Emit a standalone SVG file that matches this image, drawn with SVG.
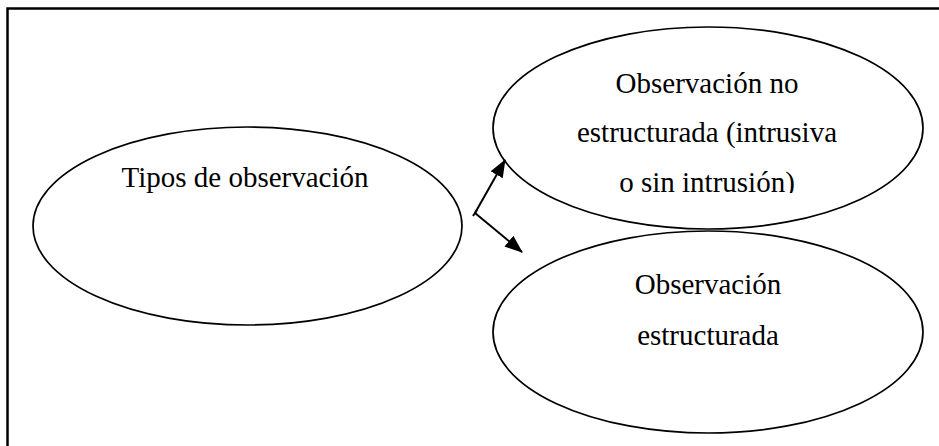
<svg xmlns="http://www.w3.org/2000/svg" width="939" height="446" viewBox="0 0 939 446">
  <defs>
    <style>
      .frame { fill: none; stroke: #000; stroke-width: 2.5; }
      .node { fill: #fff; stroke: #000; stroke-width: 1.7; }
      .label { font-family: "Liberation Serif", "Times New Roman", serif; font-size: 29px; fill: #000; text-anchor: middle; }
      .edge { fill: none; stroke: #000; stroke-width: 2; }
    </style>
    <marker id="arrow" viewBox="0 0 18 14" refX="17" refY="7" markerWidth="18" markerHeight="14" markerUnits="userSpaceOnUse" orient="auto">
      <path d="M0,0 L18,7 L0,14 Z" fill="#000"/>
    </marker>
    <!-- the last line of the upper label is cut off at its text box -->
    <clipPath id="clip-upper">
      <rect x="500" y="20" width="420" height="173"/>
    </clipPath>
  </defs>

  <!-- page frame -->
  <path class="frame" d="M7.5,446 V8.5 H939"/>

  <g id="tipos">
    <ellipse class="node" cx="247.5" cy="226" rx="214.5" ry="99"/>
    <text class="label" x="245" y="187">Tipos de observación</text>
  </g>

  <g id="no-estructurada">
    <ellipse class="node" cx="708" cy="128" rx="215" ry="101"/>
    <g clip-path="url(#clip-upper)">
      <text class="label" x="707" y="93">Observación no</text>
      <text class="label" x="707" y="142">estructurada (intrusiva</text>
      <text class="label" x="707" y="192">o sin intrusión)</text>
    </g>
  </g>

  <g id="estructurada">
    <ellipse class="node" cx="708" cy="332" rx="215" ry="101"/>
    <text class="label" x="708" y="294">Observación</text>
    <text class="label" x="708" y="345">estructurada</text>
  </g>

  <g id="connectors">
    <path class="edge" d="M473,216 L477,210"/>
    <path class="edge" d="M475,213 L505,160" marker-end="url(#arrow)"/>
    <path class="edge" d="M475,213 L522,252" marker-end="url(#arrow)"/>
  </g>
</svg>
